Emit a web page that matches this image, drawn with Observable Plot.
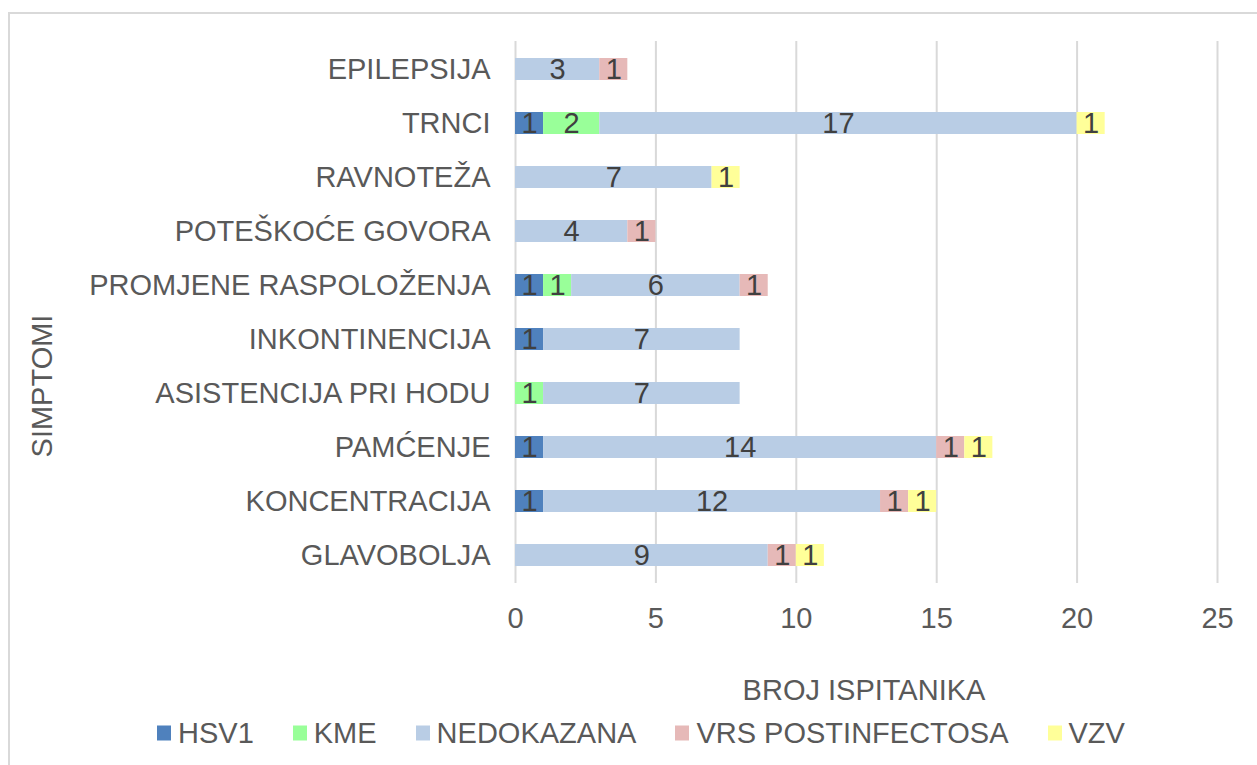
<!DOCTYPE html>
<html>
<head>
<meta charset="utf-8">
<script src="https://cdn.jsdelivr.net/npm/d3@7"></script>
<script src="https://cdn.jsdelivr.net/npm/@observablehq/plot@0.6"></script>
<style>
  body { margin: 0; background: #fff; font-family: "Liberation Sans", Arial, sans-serif; }
  #wrap { position: relative; width: 1257px; height: 765px; overflow: hidden; background: #fff; }
  #frame { position: absolute; left: 8px; top: 12px; width: 1400px; height: 900px; border: 2px solid #d9d9d9; box-sizing: border-box; }
  #chart { position: absolute; left: 0; top: 0; }
  .ttl { position: absolute; font-size: 29px; color: #595959; white-space: nowrap; }
  #ytitle { left: 42px; top: 386px; transform: translate(-50%, -50%) rotate(-90deg); }
  #xtitle { left: 864px; top: 690px; transform: translate(-50%, -50%); }
  #legend { position: absolute; left: 157px; top: 733px; transform: translateY(-50%); display: flex; align-items: center; font-size: 29px; color: #595959; white-space: nowrap; }
  .item { display: flex; align-items: center; margin-right: 39px; }
  .sw { width: 14px; height: 15px; margin-right: 7px; }
</style>
</head>
<body>
<div id="wrap">
  <div id="frame"></div>
  <div id="chart"></div>
  <div class="ttl" id="ytitle">SIMPTOMI</div>
  <div class="ttl" id="xtitle">BROJ ISPITANIKA</div>
  <div id="legend"></div>
</div>
<script>
const categories = ["EPILEPSIJA", "TRNCI", "RAVNOTEŽA", "POTEŠKOĆE GOVORA", "PROMJENE RASPOLOŽENJA",
  "INKONTINENCIJA", "ASISTENCIJA PRI HODU", "PAMĆENJE", "KONCENTRACIJA", "GLAVOBOLJA"];
const seriesNames = ["HSV1", "KME", "NEDOKAZANA", "VRS POSTINFECTOSA", "VZV"];
const seriesColors = ["#4F81BD", "#99FF99", "#B9CDE5", "#E6B9B8", "#FFFF99"];
const hsv1 =       [0, 1, 0, 0, 1, 1, 0, 1, 1, 0];
const kme =        [0, 2, 0, 0, 1, 0, 1, 0, 0, 0];
const nedokazana = [3, 17, 7, 4, 6, 7, 7, 14, 12, 9];
const vrs =        [1, 0, 0, 1, 1, 0, 0, 1, 1, 1];
const vzv =        [0, 1, 1, 0, 0, 0, 0, 1, 1, 1];
const xTicks = [0, 5, 10, 15, 20, 25];

const seriesValues = [hsv1, kme, nedokazana, vrs, vzv];
const rows = [];
seriesNames.forEach((s, si) => {
  categories.forEach((c, ci) => {
    const v = seriesValues[si][ci];
    if (v > 0) rows.push({category: c, series: s, value: v});
  });
});

const stackOpts = {x: "value", y: "category", z: "series", order: seriesNames};

const chart = Plot.plot({
  width: 1257,
  height: 765,
  marginLeft: 515,
  marginRight: 40,
  marginTop: 41,
  marginBottom: 182,
  style: {fontFamily: "'Liberation Sans', Arial, sans-serif", color: "#595959", background: "transparent"},
  x: {domain: [0, 25]},
  y: {domain: categories, paddingInner: 0.6, paddingOuter: 0.3},
  color: {domain: seriesNames, range: seriesColors},
  marks: [
    Plot.gridX(xTicks, {stroke: "#d9d9d9", strokeOpacity: 1, strokeWidth: 2}),
    Plot.axisX({ticks: xTicks, tickSize: 0, tickPadding: 24, fontSize: 29, label: null}),
    Plot.axisY({tickSize: 0, tickPadding: 25, fontSize: 29, label: null}),
    Plot.barX(rows, Plot.stackX({...stackOpts, fill: "series"})),
    Plot.text(rows, Plot.stackX({...stackOpts, text: "value", fill: "#404040", fontSize: 29}))
  ]
});
document.getElementById("chart").appendChild(chart);

const legend = document.getElementById("legend");
seriesNames.forEach((s, i) => {
  const item = document.createElement("div");
  item.className = "item";
  const sw = document.createElement("div");
  sw.className = "sw";
  sw.style.background = seriesColors[i];
  const t = document.createElement("span");
  t.textContent = s;
  item.appendChild(sw);
  item.appendChild(t);
  legend.appendChild(item);
});
</script>
</body>
</html>
